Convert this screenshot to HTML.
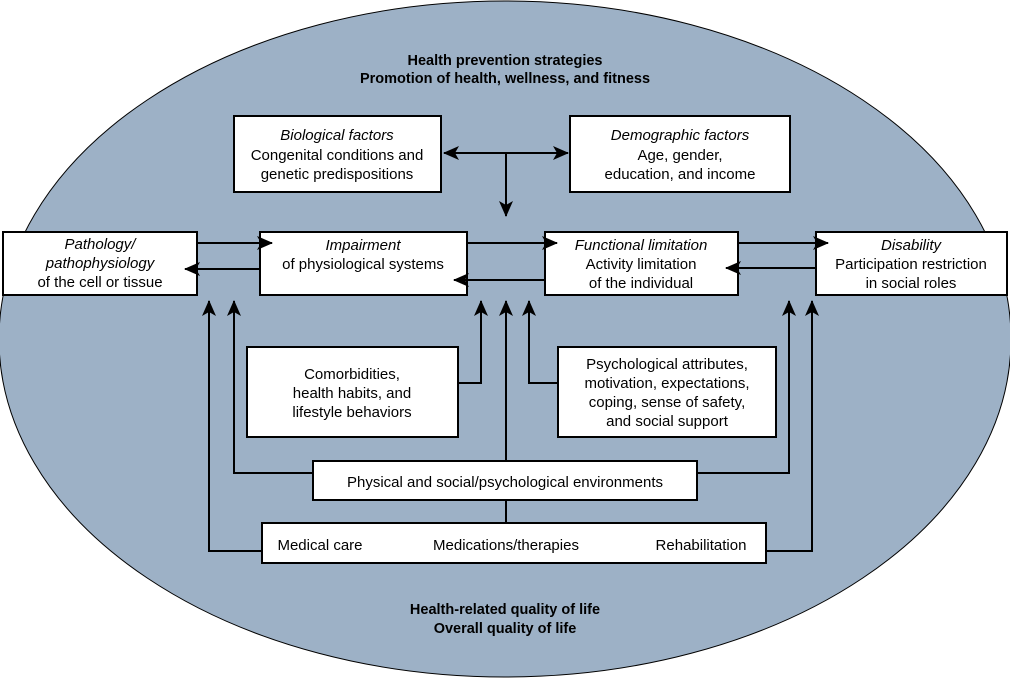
<!DOCTYPE html>
<html><head><style>
body{margin:0;background:#fff;}
svg{display:block;font-family:"Liberation Sans",sans-serif;}
.b{fill:#fff;stroke:#000;stroke-width:2;}
.l{stroke:#000;stroke-width:2;fill:none;}
text{font-size:15px;text-anchor:middle;fill:#000;}
.i{font-style:italic;}
.h{font-weight:bold;font-size:14.5px;}
</style></head><body>
<svg width="1010" height="678" viewBox="0 0 1010 678">
<defs><marker id="a" markerWidth="16" markerHeight="14" refX="15" refY="7" orient="auto" markerUnits="userSpaceOnUse"><path d="M0,0 L16,7 L0,14 L4,7z" fill="#000"/></marker></defs>
<ellipse cx="505" cy="339" rx="506" ry="338" fill="#9db1c6" stroke="#000" stroke-width="1"/>
<text class="h" x="505" y="65">Health prevention strategies</text>
<text class="h" x="505" y="83">Promotion of health, wellness, and fitness</text>
<text class="h" x="505" y="614">Health-related quality of life</text>
<text class="h" x="505" y="633">Overall quality of life</text>

<rect class="b" x="234" y="116" width="207" height="76"/>
<text class="i" x="337" y="140">Biological factors</text>
<text x="337" y="160">Congenital conditions and</text>
<text x="337" y="179">genetic predispositions</text>
<rect class="b" x="570" y="116" width="220" height="76"/>
<text class="i" x="680" y="140">Demographic factors</text>
<text x="680" y="160">Age, gender,</text>
<text x="680" y="179">education, and income</text>
<line class="l" x1="506" y1="153" x2="444" y2="153" marker-end="url(#a)"/>
<line class="l" x1="506" y1="153" x2="568" y2="153" marker-end="url(#a)"/>
<line class="l" x1="506" y1="153" x2="506" y2="216" marker-end="url(#a)"/>

<rect class="b" x="3" y="232" width="194" height="63"/>
<text class="i" x="100" y="249">Pathology/</text>
<text class="i" x="100" y="268">pathophysiology</text>
<text x="100" y="287">of the cell or tissue</text>
<rect class="b" x="260" y="232" width="207" height="63"/>
<text class="i" x="363" y="250">Impairment</text>
<text x="363" y="269">of physiological systems</text>
<rect class="b" x="545" y="232" width="193" height="63"/>
<text class="i" x="641" y="250">Functional limitation</text>
<text x="641" y="269">Activity limitation</text>
<text x="641" y="288">of the individual</text>
<rect class="b" x="816" y="232" width="191" height="63"/>
<text class="i" x="911" y="250">Disability</text>
<text x="911" y="269">Participation restriction</text>
<text x="911" y="288">in social roles</text>

<line class="l" x1="197" y1="243" x2="272" y2="243" marker-end="url(#a)"/>
<line class="l" x1="260" y1="269" x2="185" y2="269" marker-end="url(#a)"/>
<line class="l" x1="467" y1="243" x2="557" y2="243" marker-end="url(#a)"/>
<line class="l" x1="545" y1="280" x2="454" y2="280" marker-end="url(#a)"/>
<line class="l" x1="738" y1="243" x2="828" y2="243" marker-end="url(#a)"/>
<line class="l" x1="816" y1="268" x2="726" y2="268" marker-end="url(#a)"/>

<rect class="b" x="247" y="347" width="211" height="90"/>
<text x="352" y="379">Comorbidities,</text>
<text x="352" y="398">health habits, and</text>
<text x="352" y="417">lifestyle behaviors</text>
<rect class="b" x="558" y="347" width="218" height="90"/>
<text x="667" y="369">Psychological attributes,</text>
<text x="667" y="388">motivation, expectations,</text>
<text x="667" y="407">coping, sense of safety,</text>
<text x="667" y="426">and social support</text>

<polyline class="l" points="458,383 481,383 481,301" marker-end="url(#a)"/>
<polyline class="l" points="558,383 529,383 529,301" marker-end="url(#a)"/>
<line class="l" x1="506" y1="461" x2="506" y2="301" marker-end="url(#a)"/>

<rect class="b" x="313" y="461" width="384" height="39"/>
<text x="505" y="487">Physical and social/psychological environments</text>
<polyline class="l" points="313,473 234,473 234,301" marker-end="url(#a)"/>
<polyline class="l" points="697,473 789,473 789,301" marker-end="url(#a)"/>
<line class="l" x1="506" y1="500" x2="506" y2="523"/>

<rect class="b" x="262" y="523" width="504" height="40"/>
<text x="320" y="550">Medical care</text>
<text x="506" y="550">Medications/therapies</text>
<text x="701" y="550">Rehabilitation</text>
<polyline class="l" points="262,551 209,551 209,301" marker-end="url(#a)"/>
<polyline class="l" points="766,551 812,551 812,301" marker-end="url(#a)"/>
</svg>
</body></html>
